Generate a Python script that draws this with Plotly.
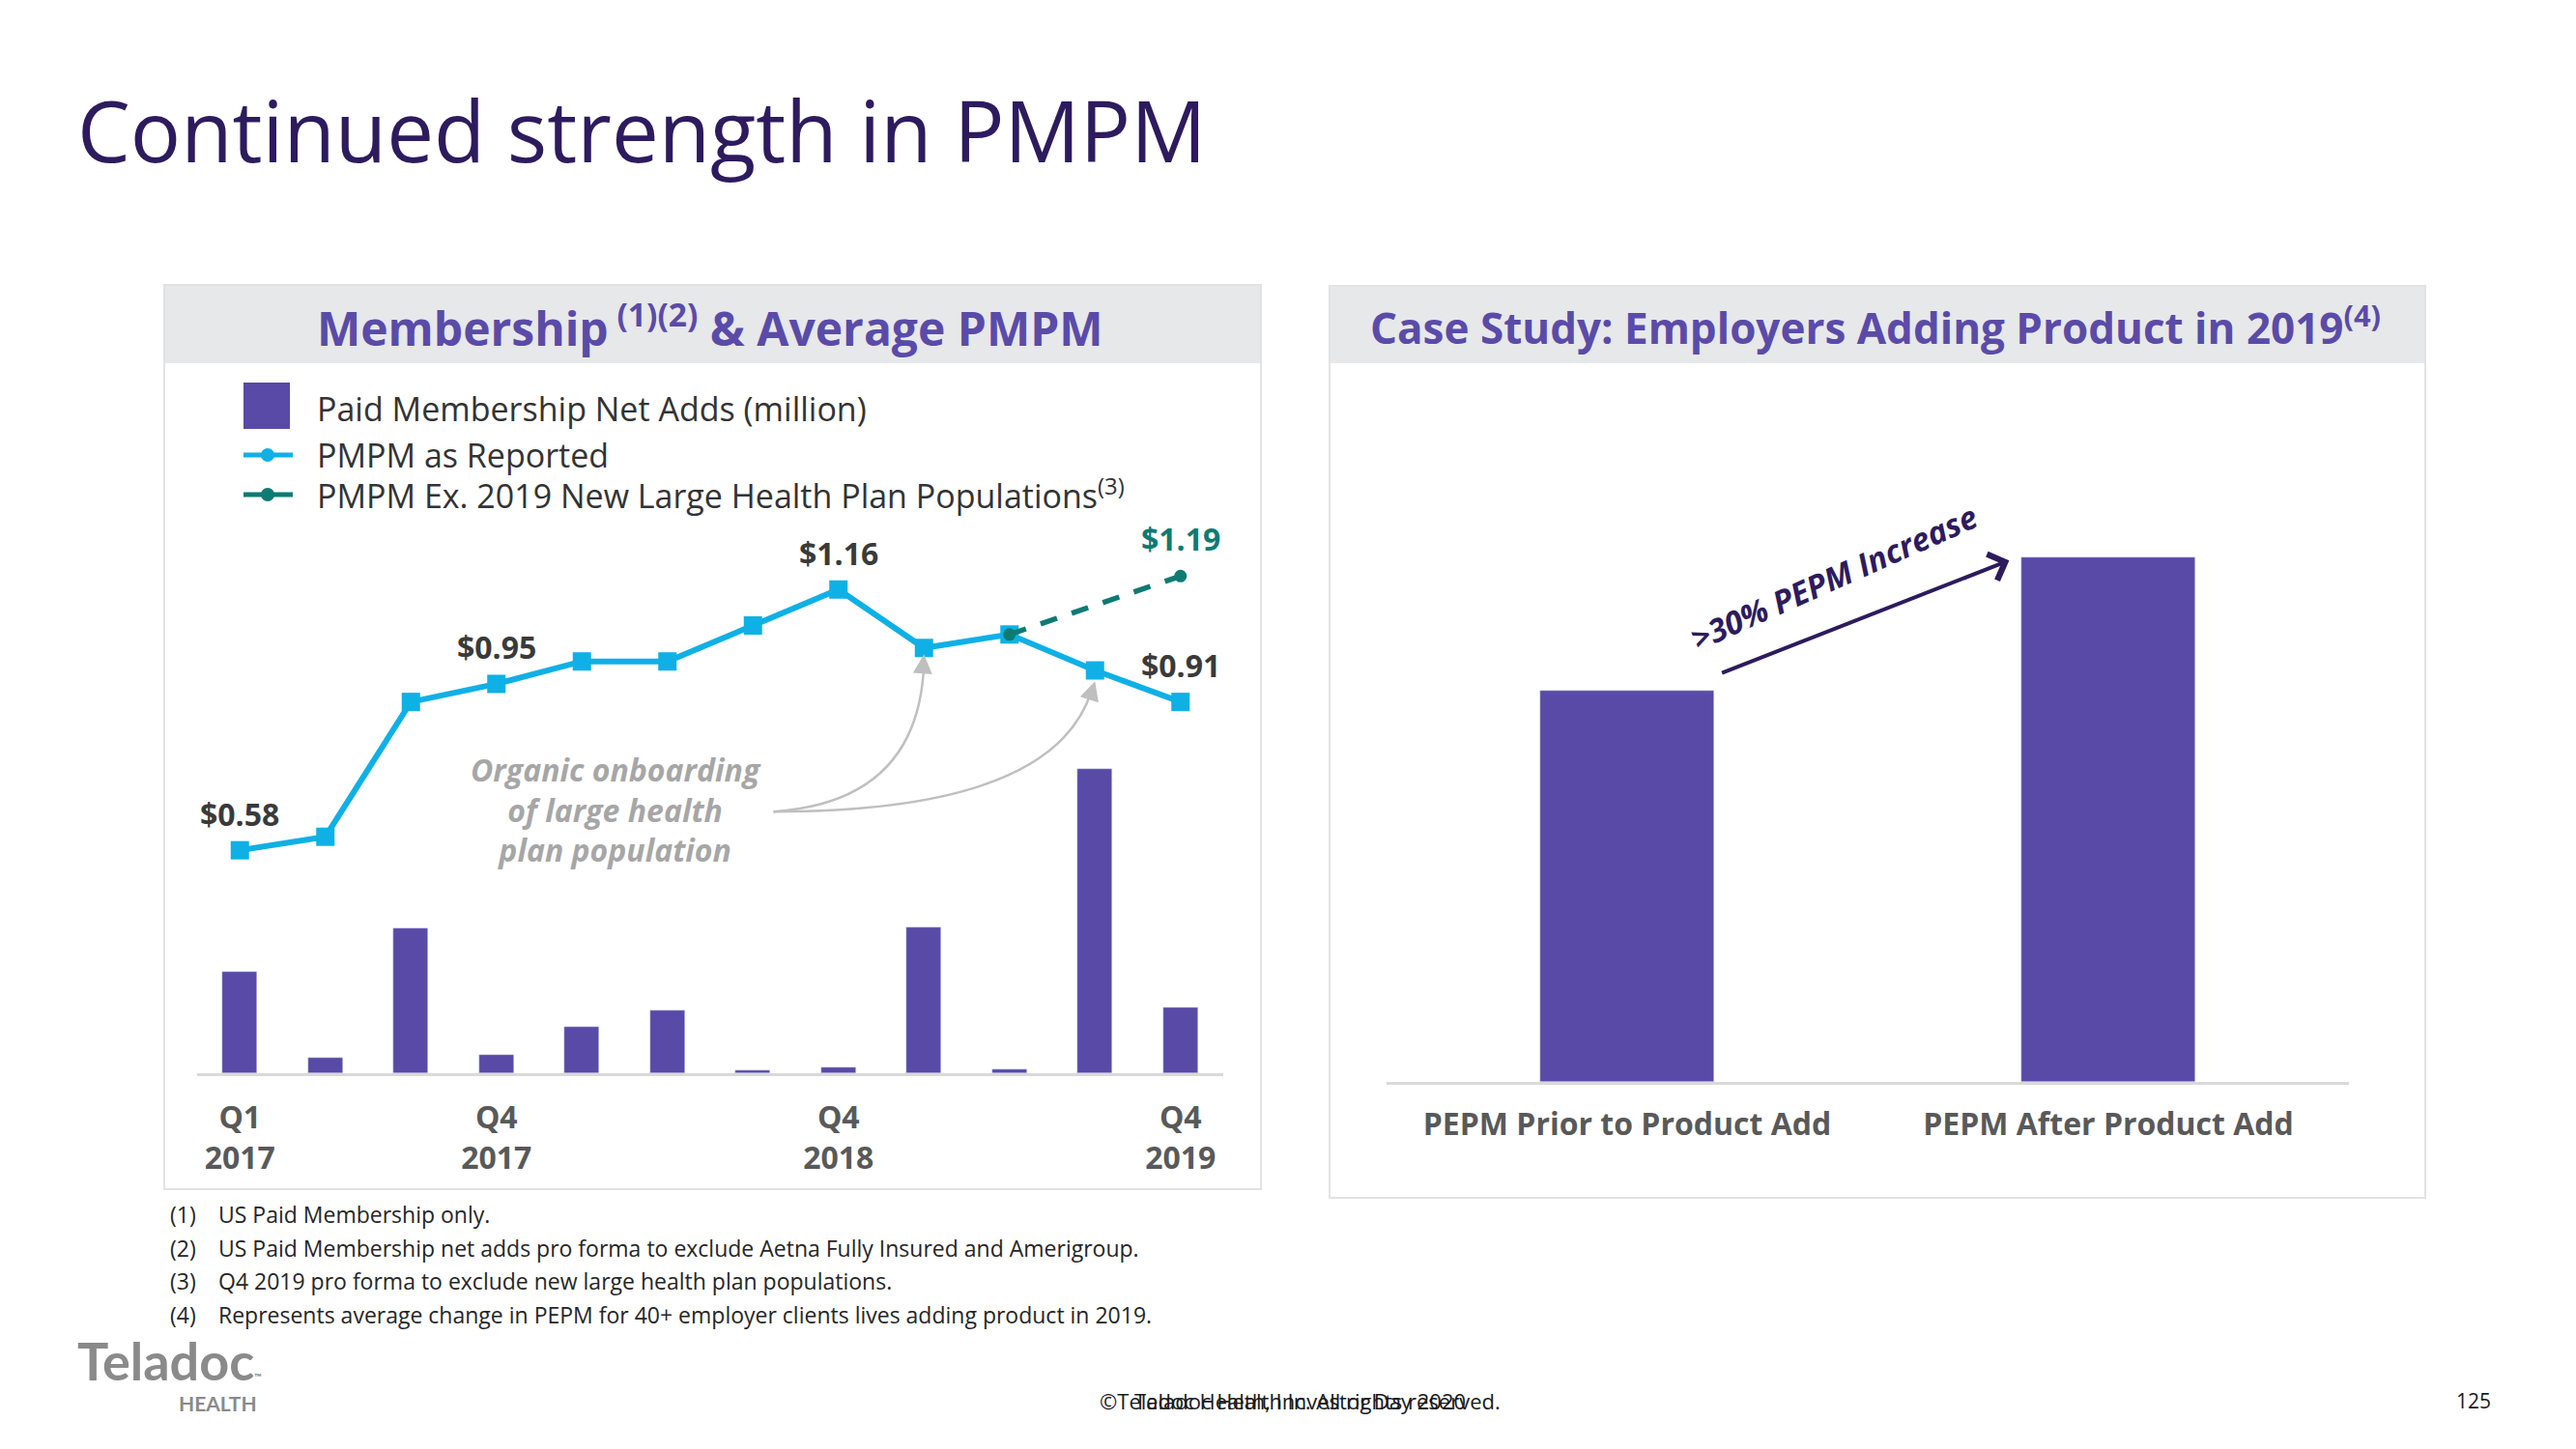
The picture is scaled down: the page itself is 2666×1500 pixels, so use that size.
import plotly.graph_objects as go

W, H = 2666, 1500
FONT = "Open Sans"

# ---------------- data ----------------
quarters = ["Q1 2017", "Q2 2017", "Q3 2017", "Q4 2017",
            "Q1 2018", "Q2 2018", "Q3 2018", "Q4 2018",
            "Q1 2019", "Q2 2019", "Q3 2019", "Q4 2019"]
net_adds = [3.08, 0.48, 4.40, 0.57, 1.40, 1.90, 0.08, 0.19, 4.45, 0.11, 9.26, 1.99]
pmpm_reported = [0.58, 0.61, 0.91, 0.95, 1.00, 1.00, 1.08, 1.16, 1.03, 1.06, 0.98, 0.91]
pmpm_ex_quarters = ["Q2 2019", "Q4 2019"]
pmpm_ex = [1.06, 1.19]
label_quarters = ["Q1 2017", "Q4 2017", "Q4 2018", "Q4 2019"]
tick_text = ["Q1<br>2017", "Q4<br>2017", "Q4<br>2018", "Q4<br>2019"]

case_categories = ["PEPM Prior to Product Add", "PEPM After Product Add"]
case_values = [1.00, 1.34]

footnotes = [
    ("(1)", "US Paid Membership only."),
    ("(2)", "US Paid Membership net adds pro forma to exclude Aetna Fully Insured and Amerigroup."),
    ("(3)", "Q4 2019 pro forma to exclude new large health plan populations."),
    ("(4)", "Represents average change in PEPM for 40+ employer clients lives adding product in 2019."),
]

# ---------------- colours ----------------
PURPLE = "#584AA6"
HEAD = "#5A4BA8"
DARK = "#2D1B5E"
CYAN = "#0FB0E6"
TEAL = "#0E7B73"
GRAYTXT = "#595959"
LBL = "#3A3A3A"
ARROW_GRAY = "#BFBFBF"


def px(x):
    return x / W


def py(y):
    return 1 - y / H


xi = {q: i for i, q in enumerate(quarters)}
xs = [xi[q] for q in quarters]

fig = go.Figure()

# bars: membership net adds
fig.add_trace(go.Bar(x=xs, y=net_adds, marker_color=PURPLE, width=0.41,
                     xaxis="x", yaxis="y", showlegend=False,
                     name="Paid Membership Net Adds (million)"))
# PMPM as reported
fig.add_trace(go.Scatter(x=xs, y=pmpm_reported, mode="lines+markers",
                         line=dict(color=CYAN, width=6),
                         marker=dict(symbol="square", size=19, color=CYAN),
                         xaxis="x", yaxis="y2", showlegend=False,
                         name="PMPM as Reported"))
# PMPM ex new large health plan populations
fig.add_trace(go.Scatter(x=[xi[q] for q in pmpm_ex_quarters], y=pmpm_ex,
                         mode="lines+markers",
                         line=dict(color=TEAL, width=5.5, dash="18px,16px"),
                         marker=dict(symbol="circle", size=13, color=TEAL),
                         xaxis="x", yaxis="y2", showlegend=False,
                         name="PMPM Ex. 2019 New Large Health Plan Populations"))
# case study bars
fig.add_trace(go.Bar(x=case_categories, y=case_values, marker_color=PURPLE, width=0.36,
                     xaxis="x3", yaxis="y3", showlegend=False, name="PEPM"))

shapes = []
ann = []

# panel boxes
for (x0, y0, x1, y1) in [(170, 295, 1305, 1231), (1376, 296, 2510, 1240)]:
    shapes.append(dict(type="rect", xref="paper", yref="paper", layer="below",
                       x0=px(x0), x1=px(x1), y0=py(y1), y1=py(y0),
                       line=dict(color="#E2E2E2", width=2), fillcolor="white"))
    shapes.append(dict(type="rect", xref="paper", yref="paper", layer="below",
                       x0=px(x0 + 1), x1=px(x1 - 1), y0=py(376), y1=py(y0 + 1),
                       line=dict(width=0), fillcolor="#E7E8EA"))

# title
ann.append(dict(xref="paper", yref="paper", x=px(78), y=py(134), xanchor="left", yanchor="middle",
                text="Continued strength in PMPM", showarrow=False,
                font=dict(family=FONT, size=87, color=DARK)))
# panel headers
ann.append(dict(xref="paper", yref="paper", x=px(735), y=py(337), xanchor="center", yanchor="middle",
                text="Membership<sup> (1)(2)</sup> & Average PMPM", showarrow=False,
                font=dict(family=FONT, size=48, color=HEAD, weight="bold")))
ann.append(dict(xref="paper", yref="paper", x=px(1941), y=py(337), xanchor="center", yanchor="middle",
                text="Case Study: Employers Adding Product in 2019<sup>(4)</sup>", showarrow=False,
                font=dict(family=FONT, size=44, color=HEAD, weight="bold")))

# manual legend
shapes.append(dict(type="rect", xref="paper", yref="paper", x0=px(252), x1=px(300),
                   y0=py(444), y1=py(396), fillcolor=PURPLE, line=dict(width=0)))
for yy, col in [(471, CYAN), (512, TEAL)]:
    shapes.append(dict(type="line", xref="paper", yref="paper", x0=px(252), x1=px(303),
                       y0=py(yy), y1=py(yy), line=dict(color=col, width=5)))
    shapes.append(dict(type="circle", xref="paper", yref="paper", x0=px(270), x1=px(284),
                       y0=py(yy + 7), y1=py(yy - 7), fillcolor=col, line=dict(width=0)))
legend_texts = [(423, "Paid Membership Net Adds (million)"),
                (471, "PMPM as Reported"),
                (512, "PMPM Ex. 2019 New Large Health Plan Populations<sup>(3)</sup>")]
for yy, t in legend_texts:
    ann.append(dict(xref="paper", yref="paper", x=px(326), y=py(yy), xanchor="left", yanchor="middle",
                    text=t, showarrow=False, font=dict(family=FONT, size=34, color="#333333")))

# data labels
for q in label_quarters:
    i = xi[q]
    ann.append(dict(xref="x", yref="y2", x=i, y=pmpm_reported[i], yshift=38, showarrow=False,
                    text=f"${pmpm_reported[i]:.2f}", xanchor="center", yanchor="middle",
                    font=dict(family=FONT, size=32, color=LBL, weight="bold")))
ann.append(dict(xref="x", yref="y2", x=xi[pmpm_ex_quarters[-1]], y=pmpm_ex[-1], yshift=39,
                showarrow=False, text=f"${pmpm_ex[-1]:.2f}", xanchor="center", yanchor="middle",
                font=dict(family=FONT, size=32, color=TEAL, weight="bold")))

# organic onboarding callout
ann.append(dict(xref="x", yref="y2", x=4.4, y=0.67, showarrow=False, xanchor="center", yanchor="middle",
                text="Organic onboarding<br>of large health<br>plan population",
                font=dict(family=FONT, size=32, color="#A6A6A6", weight="bold", style="italic")))
# curved arrows (data coords: x index, y2 value)
shapes.append(dict(type="path", xref="x", yref="y2", layer="above",
                   path="M 6.24,0.666 Q 7.94,0.688 8.0,0.995",
                   line=dict(color=ARROW_GRAY, width=2.5)))
shapes.append(dict(type="path", xref="x", yref="y2", layer="above",
                   path="M 6.24,0.666 Q 9.52,0.666 9.96,0.935",
                   line=dict(color=ARROW_GRAY, width=2.5)))
for (tx, ty, dx, dy) in [(8.0, 1.016, -1, 14), (10.0, 0.956, -4, 13)]:
    ann.append(dict(xref="x", yref="y2", x=tx, y=ty, ax=dx, ay=dy, text="", showarrow=True,
                    arrowhead=2, arrowsize=1.6, arrowwidth=2.5, arrowcolor=ARROW_GRAY))

# case study arrow + label
ann.append(dict(xref="x3", yref="y3", x=0.794, y=1.333, axref="x3", ayref="y3", ax=0.194, ay=1.044,
                text="", showarrow=True, arrowhead=4, arrowsize=1.4, arrowwidth=4, arrowcolor=DARK))
ann.append(dict(xref="x3", yref="y3", x=0.43, y=1.29, showarrow=False, textangle=-24,
                text=">30% PEPM Increase", xanchor="center", yanchor="middle",
                font=dict(family=FONT, size=33, color=DARK, weight="bold", style="italic")))

# footnotes
for k, (num, txt) in enumerate(footnotes):
    yy = 1257 + k * 34.5
    ann.append(dict(xref="paper", yref="paper", x=px(174), y=py(yy), xanchor="left", yanchor="middle",
                    text=num, showarrow=False, font=dict(family=FONT, size=23, color="#262626")))
    ann.append(dict(xref="paper", yref="paper", x=px(224), y=py(yy), xanchor="left", yanchor="middle",
                    text=txt, showarrow=False, font=dict(family=FONT, size=23, color="#262626")))

# logo + footer
ann.append(dict(xref="paper", yref="paper", x=px(78), y=py(1408), xanchor="left", yanchor="middle",
                text="Teladoc<span style='font-size:10px'>™</span>", showarrow=False,
                font=dict(family="Lato", size=54, color="#8A8A8A", weight="bold")))
ann.append(dict(xref="paper", yref="paper", x=px(226), y=py(1452), xanchor="center", yanchor="middle",
                text="HEALTH", showarrow=False,
                font=dict(family="Lato", size=21, color="#8A8A8A", weight="bold")))
for t in ["©Teladoc Health, Inc. All rights reserved.", "Teladoc Health Investor Day 2020"]:
    ann.append(dict(xref="paper", yref="paper", x=px(1345), y=py(1450), xanchor="center", yanchor="middle",
                    text=t, showarrow=False, font=dict(family=FONT, size=22, color="#1A1A1A")))
ann.append(dict(xref="paper", yref="paper", x=px(2560), y=py(1450), xanchor="center", yanchor="middle",
                text="125", showarrow=False, font=dict(family=FONT, size=21, color="#1A1A1A")))

fig.update_layout(
    width=W, height=H, margin=dict(l=0, r=0, t=0, b=0),
    paper_bgcolor="white", plot_bgcolor="rgba(0,0,0,0)",
    showlegend=False, bargap=0,
    xaxis=dict(domain=[px(204), px(1266)], range=[-0.5, 11.5],
               tickvals=[xi[q] for q in label_quarters], ticktext=tick_text,
               tickfont=dict(family=FONT, size=32, color=GRAYTXT, weight="bold"),
               showgrid=False, zeroline=False, showline=True, linecolor="#D9D9D9", linewidth=3,
               ticks="", ticklabelstandoff=16, anchor="y", fixedrange=True),
    yaxis=dict(domain=[py(1111), py(560)], range=[0, 16.2], visible=False, fixedrange=True),
    yaxis2=dict(domain=[py(1111), py(560)], range=[0.084, 1.268], overlaying="y",
                visible=False, fixedrange=True),
    xaxis3=dict(domain=[px(1435), px(2431)], range=[-0.5, 1.5], type="category",
                tickfont=dict(family=FONT, size=32, color=GRAYTXT, weight="bold"),
                showgrid=False, zeroline=False, showline=True, linecolor="#D9D9D9", linewidth=3,
                ticks="", ticklabelstandoff=14, anchor="y3", fixedrange=True),
    yaxis3=dict(domain=[py(1120), py(500)], range=[0, 1.531], visible=False, anchor="x3",
                fixedrange=True),
    shapes=shapes, annotations=ann,
)

fig.write_html("out.html", config={"displayModeBar": False},
               post_script="document.body.style.margin='0';document.body.style.overflow='hidden';")
